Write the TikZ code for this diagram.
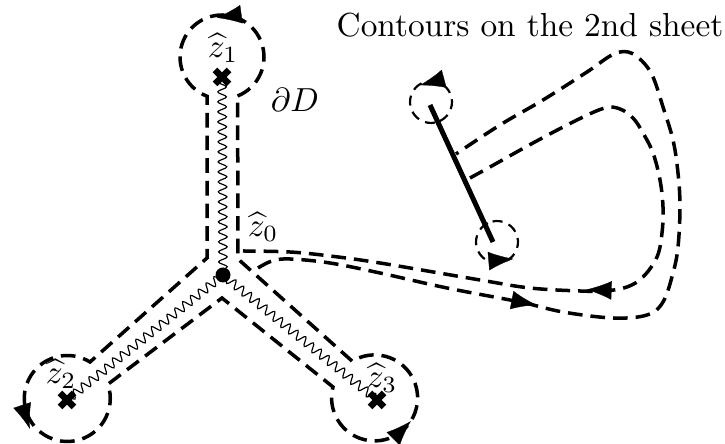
\documentclass[tikz,border=0pt]{standalone}
\usetikzlibrary{arrows.meta,decorations.pathmorphing,calc}
\begin{document}
\begin{tikzpicture}[x=0.3pt,y=-0.3pt,
  bd/.style={line width=1.05pt,dash pattern=on 4.4pt off 2.4pt},
  sc/.style={line width=0.65pt,dash pattern=on 3pt off 2pt},
  cutline/.style={line width=1.5pt},
  wig/.style={line width=0.35pt,decorate,decoration={snake,amplitude=1.3pt,segment length=3pt}},
  tipst/.style={line width=0.1pt,-{Latex[length=7.5pt,width=5.6pt]}},
  xmark/.style={line width=2pt},
  lab/.style={inner sep=0pt}]
\useasboundingbox (0,0) rectangle (725,444);
\newcommand\myarrow[2]{\draw[tipst] ($(#1)+(#2+180:12.5)$) -- ($(#1)+(#2:12.5)$);}
\coordinate (z0) at (223,275);
\coordinate (x1) at (222,77);
\coordinate (x2) at (67,400);
\coordinate (x3) at (377,400);
\coordinate (C1) at (222,57);
\coordinate (C2) at (67,399);
\coordinate (C3) at (375,398);
\coordinate (A) at (430,105);
\coordinate (B) at (493,242);
\coordinate (Ct) at (431,102);
\coordinate (Cb) at (497,242);
% branch cuts (wiggly)
\draw[wig] (z0) -- (x1);
\draw[wig] (z0) -- (x2);
\draw[wig] (z0) -- (x3);
% boundary of D
\draw[bd] ($(C1)+(68.2:42)$) arc[start angle=68.2,end angle=-249.4,radius=42]
  -- (207,258) -- (90,362) arc[start angle=-58.1,end angle=-379.3,radius=43]
  -- (222,298) -- (333,387) arc[start angle=194.7,end angle=-121.4,radius=43]
  -- (238,259) -- cycle;
% crosses and dot
\foreach \p in {x1,x2,x3}{
  \draw[xmark] ($(\p)+(-7,-7)$) -- ($(\p)+(7,7)$);
  \draw[xmark] ($(\p)+(-7,7)$) -- ($(\p)+(7,-7)$);
}
\fill (z0) circle[radius=7.5];
% arrows on boundary (centre, direction)
\coordinate (a1) at (229,16);
\coordinate (a2) at (26,417);
\coordinate (a3) at (402,430);
\myarrow{a1}{172}
\myarrow{a2}{72}
\myarrow{a3}{-45}
% second sheet
\draw[cutline] (A) -- (B);
\draw[sc] ($(Ct)+(65.3:21)$) arc[start angle=65.3,end angle=-294.7,radius=21];
\draw[sc] ($(Cb)+(-116:21)$) arc[start angle=-116,end angle=-476,radius=21];
\coordinate (a4) at (432,82);
\coordinate (a5) at (501,260);
\myarrow{a4}{165}
\myarrow{a5}{-5}
\draw[bd] plot[smooth,tension=0.6] coordinates {(258,268) (272,261) (290,259) (330,263) (380,273) (447,288) (520,302) (563,312) (613,318) (647,315) (663,302) (673,273) (678,247) (680,207) (678,173) (673,140) (663,107) (653,77) (642,61) (628,52) (612,55) (587,72) (543,100) (500,125) (456,154)};
\draw[bd] plot[smooth,tension=0.6] coordinates {(470,178) (490,167) (533,143) (577,120) (605,108) (620,109) (633,118) (643,133) (653,153) (660,180) (663,207) (662,233) (657,257) (643,277) (627,287) (605,291) (580,291) (530,288) (480,280) (380,263) (330,256) (290,252) (243,251)};
\coordinate (a6) at (524,302.5);
\coordinate (a7) at (599,290);
\myarrow{a6}{11}
\myarrow{a7}{182}
% labels
\node[lab] (title) at (530,25) {Contours on the 2nd sheet};
\node[lab] (dD) at (295,100) {$\partial D$};
\node[lab] (l0) at (263,227) {$\widehat{z}_0$};
\node[lab] (l1) at (223,48) {$\widehat{z}_1$};
\node[lab] (l2) at (61,374) {$\widehat{z}_2$};
\node[lab] (l3) at (382,378) {$\widehat{z}_3$};
\end{tikzpicture}
\end{document}
